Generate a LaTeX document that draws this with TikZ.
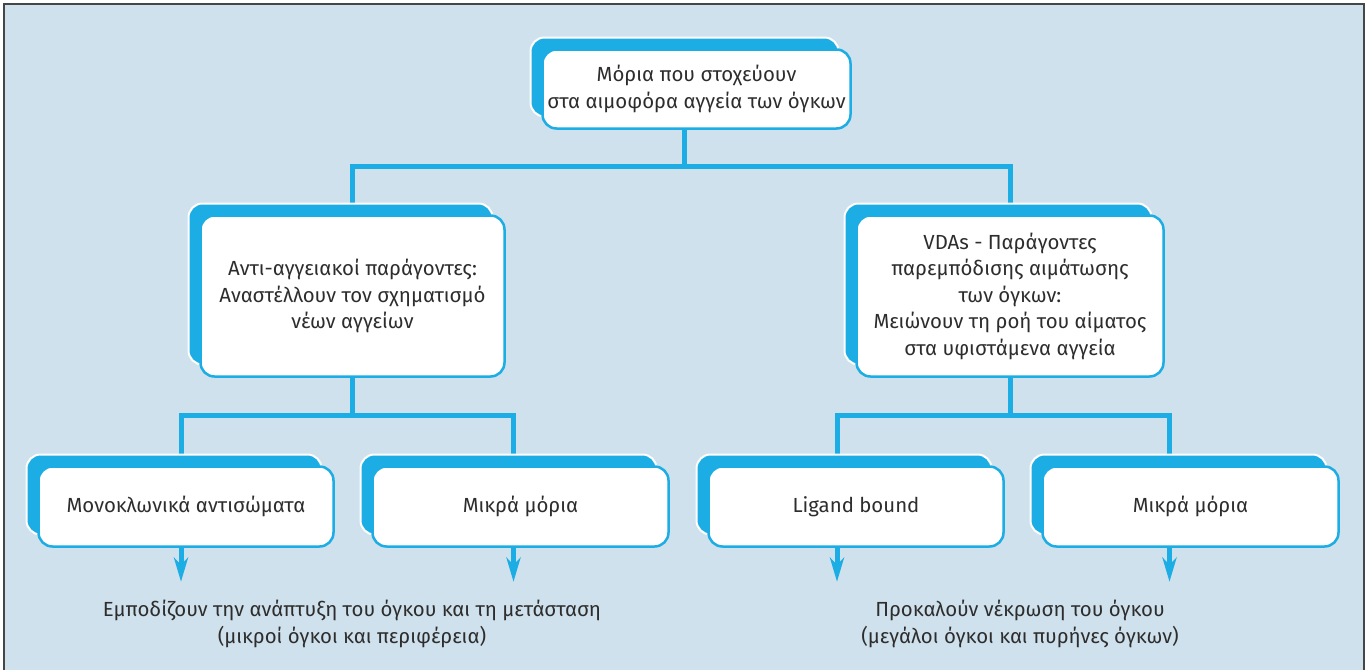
\documentclass[tikz,border=0pt]{standalone}
\usepackage{fontspec}
\setmainfont{Fira Sans}
\usetikzlibrary{arrows.meta,calc}
\definecolor{bgblue}{RGB}{207,225,236}
\definecolor{boxblue}{RGB}{27,173,228}
\definecolor{txtgray}{RGB}{45,45,45}
\definecolor{framegray}{RGB}{70,70,70}
\pgfdeclarelayer{back}
\pgfdeclarelayer{links}
\pgfsetlayers{back,links,main}
\newcommand\pairbox[6]{%
  \node[tabbox, minimum width=#4pt, minimum height=#5pt] (#1-t) at ($(#2,#3)+(-12,-12)$) {};
  \node[wbox, minimum width=#4pt, minimum height=#5pt] (#1) at (#2,#3) {#6};
}
\begin{document}
\begin{tikzpicture}[x=1pt,y=-1pt,
  wbox/.style={draw=boxblue, line width=2.5pt, fill=white, rounded corners=14pt,
    align=center, text=txtgray, font=\fontsize{20.4}{26.5}\selectfont, inner sep=0pt},
  tabbox/.style={draw=white, line width=2pt, fill=boxblue, rounded corners=14pt, inner sep=0pt},
  link/.style={draw=boxblue, line width=5pt},
  arr/.style={link, -{Stealth[length=24pt,width=14pt,inset=7pt]}},
  btext/.style={align=center, text=txtgray, font=\fontsize{20.4}{26.5}\selectfont, inner sep=0pt}]
\useasboundingbox (0,0) rectangle (1368,670);
\begin{pgfonlayer}{back}
  \fill[white] (0,0) rectangle (1368,670);
  \fill[bgblue] (4,4) rectangle (1364,670);
  \draw[framegray, line width=2pt] (4,670) -- (4,4) -- (1364,4) -- (1364,670);
\end{pgfonlayer}
\pairbox{top}{696.5}{89}{308}{79}{Μόρια που στοχεύουν\\στα αιμοφόρα αγγεία των όγκων}
\pairbox{ml}{352.5}{296}{304}{161}{Αντι-αγγειακοί παράγοντες:\\Αναστέλλουν τον σχηματισμό\\νέων αγγείων}
\pairbox{mr}{1010}{296}{307}{161}{VDAs - Παράγοντες\\παρεμπόδισης αιμάτωσης\\των όγκων:\\Μειώνουν τη ροή του αίματος\\στα υφιστάμενα αγγεία}
\pairbox{b1}{186}{506.5}{295}{80}{Μονοκλωνικά αντισώματα}
\pairbox{b2}{520.5}{506.5}{296}{80}{Μικρά μόρια}
\pairbox{b3}{856}{506.5}{295}{80}{Ligand bound}
\pairbox{b4}{1190.5}{506.5}{296}{80}{Μικρά μόρια}
\node[btext] (lefttext) at (352,624) {Εμποδίζουν την ανάπτυξη του όγκου και τη μετάσταση\\(μικροί όγκοι και περιφέρεια)};
\node[btext] (righttext) at (1020,624) {Προκαλούν νέκρωση του όγκου\\(μεγάλοι όγκοι και πυρήνες όγκων)};
\begin{pgfonlayer}{links}
  \draw[link] (top-t.south) -- ++(0,49) coordinate (j1);
  \draw[link] (ml.north) |- (j1) -| (mr.north);
  \draw[link] (ml.south) -- ++(0,38) coordinate (j2);
  \draw[link] ($(b1.north)+(-5,0)$) |- (j2) -| ($(b2.north)+(-7,0)$);
  \draw[link] (mr.south) -- ++(0,38) coordinate (j3);
  \draw[link] ($(b3.north)+(-19,0)$) |- (j3) -| ($(b4.north)+(-21,0)$);
  \draw[arr] ($(b1.south)+(-5,0)$) -- ++(0,34) coordinate (a1);
  \draw[arr] ($(b2.south)+(-7,0)$) -- ++(0,34) coordinate (a2);
  \draw[arr] ($(b3.south)+(-19,0)$) -- ++(0,34) coordinate (a3);
  \draw[arr] ($(b4.south)+(-21,0)$) -- ++(0,34) coordinate (a4);
\end{pgfonlayer}
\end{tikzpicture}
\end{document}
